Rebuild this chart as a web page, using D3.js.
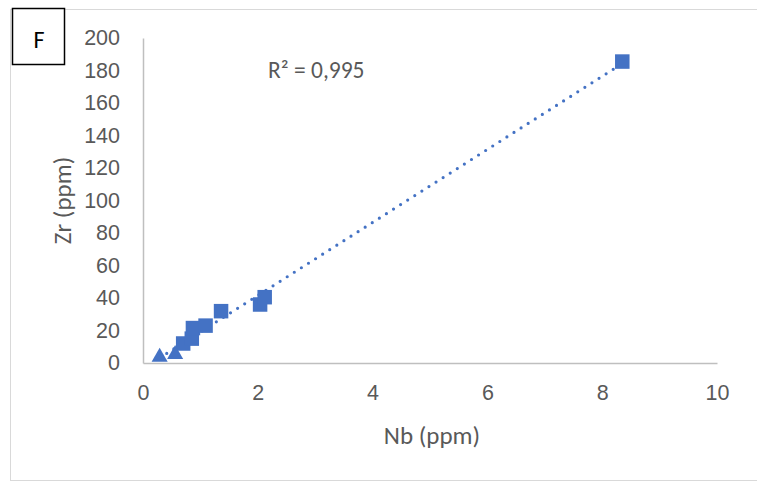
<!DOCTYPE html>
<html>
<head>
<meta charset="utf-8">
<script src="https://cdn.jsdelivr.net/npm/d3@7"></script>
<style>
  body { margin: 0; background: #fff; }
  svg { display: block; font-family: Carlito, Lato, "Open Sans", sans-serif; }
</style>
</head>
<body>
<div id="chart"></div>
<script>
// values
const triNb = [0.29, 0.56];
const triZr = [4.3, 6.0];
const sqNb = [0.70, 0.85, 0.87, 1.09, 1.36, 2.04, 2.12, 8.35];
const sqZr = [12.0, 15.0, 21.5, 23.0, 31.9, 36.0, 40.5, 185.5];
const xTicks = [0, 2, 4, 6, 8, 10];
const yTicks = [0, 20, 40, 60, 80, 100, 120, 140, 160, 180, 200];
const r2Label = "R² = 0,995";
const panelLabel = "F";

const width = 757, height = 482;
const blue = "#4472C4";

const svg = d3.select("#chart").append("svg")
    .attr("width", width)
    .attr("height", height);

// chart frame
svg.append("rect")
    .attr("x", 10.5).attr("y", 9.5)
    .attr("width", 800).attr("height", 471)
    .attr("fill", "#fff")
    .attr("stroke", "#d9d9d9");

const x = d3.scaleLinear().domain([0, 10]).range([143, 717]);
const y = d3.scaleLinear().domain([0, 200]).range([363, 38]);

// axes (no tick marks, Excel style)
const gx = svg.append("g")
    .attr("transform", `translate(0,${y(0)})`)
    .call(d3.axisBottom(x).tickValues(xTicks).tickSize(0).tickPadding(22).tickFormat(d3.format("d")));
const gy = svg.append("g")
    .attr("transform", `translate(${x(0)},0)`)
    .call(d3.axisLeft(y).tickValues(yTicks).tickSize(0).tickPadding(23).tickFormat(d3.format("d")));

[gx, gy].forEach(g => {
  g.select(".domain").attr("stroke", "#bfbfbf").attr("stroke-width", 1.5);
  g.selectAll("text").attr("fill", "#595959").attr("font-size", 21.5).attr("font-family", null);
});

svg.append("text")
    .attr("x", 432).attr("y", 444)
    .attr("text-anchor", "middle")
    .attr("fill", "#595959")
    .attr("font-size", 25)
    .text("Nb (ppm)");

svg.append("text")
    .attr("transform", `translate(71,${(y(0) + y(200)) / 2}) rotate(-90)`)
    .attr("text-anchor", "middle")
    .attr("fill", "#595959")
    .attr("font-size", 25)
    .text("Zr (ppm)");

// linear trendline over all points
const pts = triNb.map((d, i) => [d, triZr[i]]).concat(sqNb.map((d, i) => [d, sqZr[i]]));
const mx = d3.mean(pts, d => d[0]), my = d3.mean(pts, d => d[1]);
const slope = d3.sum(pts, d => (d[0] - mx) * (d[1] - my)) / d3.sum(pts, d => (d[0] - mx) ** 2);
const icpt = my - slope * mx;
const [x0, x1] = d3.extent(pts, d => d[0]);

svg.append("line")
    .attr("x1", x(x0)).attr("y1", y(icpt + slope * x0))
    .attr("x2", x(x1)).attr("y2", y(icpt + slope * x1))
    .attr("stroke", blue)
    .attr("stroke-width", 3.2)
    .attr("stroke-linecap", "round")
    .attr("stroke-dasharray", "0 8.4");

// markers
const sq = 14.5;
svg.append("g").selectAll("rect")
    .data(sqNb.map((d, i) => [d, sqZr[i]]))
    .join("rect")
    .attr("x", d => x(d[0]) - sq / 2)
    .attr("y", d => y(d[1]) - sq / 2)
    .attr("width", sq).attr("height", sq)
    .attr("fill", blue);

const tri = d3.symbol().type(d3.symbolTriangle).size(112);
svg.append("g").selectAll("path")
    .data(triNb.map((d, i) => [d, triZr[i]]))
    .join("path")
    .attr("transform", d => `translate(${x(d[0])},${y(d[1]) + 1})`)
    .attr("d", tri)
    .attr("fill", blue);

svg.append("text")
    .attr("x", 268).attr("y", 78)
    .attr("fill", "#595959")
    .attr("font-size", 23.5)
    .text(r2Label);

// panel label box
svg.append("rect")
    .attr("x", 12.5).attr("y", 8.5)
    .attr("width", 52).attr("height", 56)
    .attr("fill", "#fff")
    .attr("stroke", "#000")
    .attr("stroke-width", 1.5);
svg.append("text")
    .attr("x", 39).attr("y", 48)
    .attr("text-anchor", "middle")
    .attr("fill", "#000")
    .attr("font-size", 24)
    .text(panelLabel);
</script>
</body>
</html>
